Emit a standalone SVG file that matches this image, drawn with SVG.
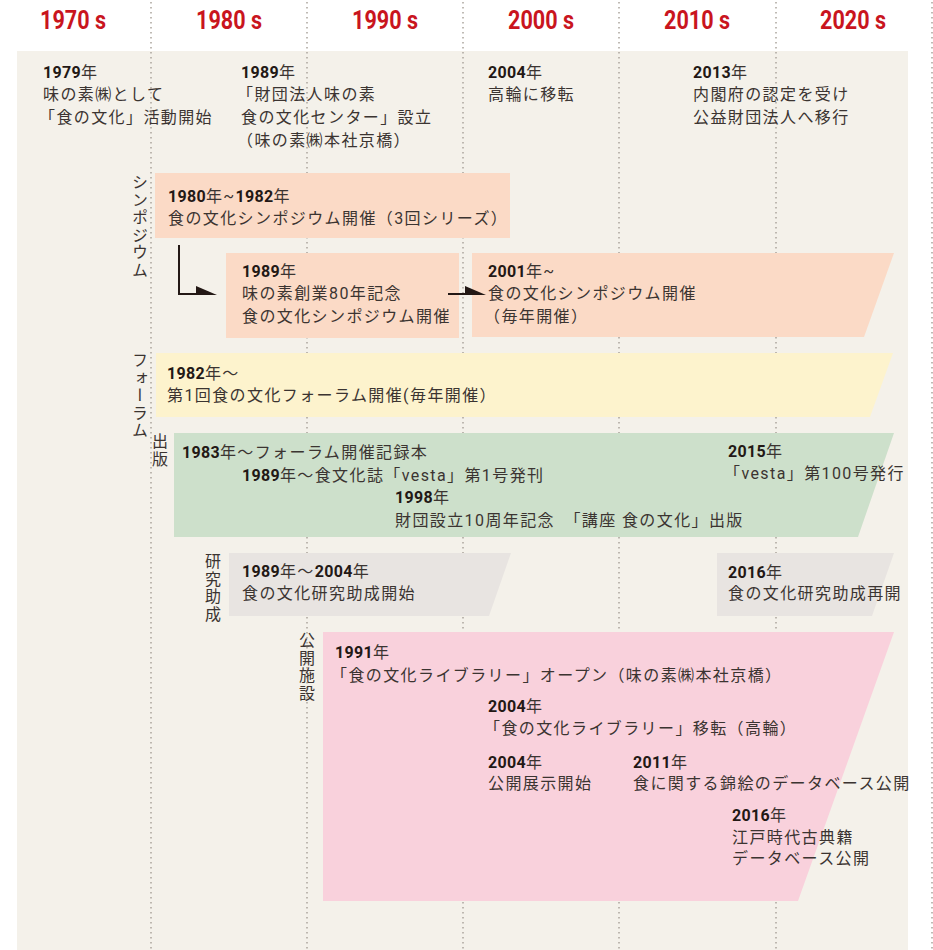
<svg xmlns="http://www.w3.org/2000/svg" width="933" height="950" viewBox="0 0 933 950">
<style>
.dot{stroke:#aaa49c;stroke-width:1.5;stroke-dasharray:1.5 3.5;fill:none}
.hd{font-family:Roboto,"DejaVu Sans",sans-serif;font-weight:700;font-size:26px;fill:#c9151e;text-anchor:middle}
.t{font-family:Roboto,"Noto Sans CJK JP",sans-serif;font-size:16px;fill:#3b3431;letter-spacing:1.4px}
.n{font-weight:700;fill:#231815;letter-spacing:0.3px}
.v{font-family:"Noto Sans CJK JP",sans-serif;font-size:16px;fill:#3b3431;writing-mode:vertical-rl;letter-spacing:1.5px}
.ar{stroke:#231815;stroke-width:2;fill:none}
.ah{fill:#231815}
</style>
<rect x="0" y="0" width="933" height="950" fill="#ffffff"/>
<rect x="17" y="51" width="891" height="899" fill="#f4f1ea"/>
<g id="gridlines">
<line class="dot" x1="151" y1="2" x2="151" y2="950"/>
<line class="dot" x1="307" y1="2" x2="307" y2="950"/>
<line class="dot" x1="463" y1="2" x2="463" y2="950"/>
<line class="dot" x1="619" y1="2" x2="619" y2="950"/>
<line class="dot" x1="776" y1="2" x2="776" y2="950"/>
<line class="dot" x1="932" y1="2" x2="932" y2="950"/>
</g>
<g id="header">
<text class="hd" x="73" y="29" textLength="66" lengthAdjust="spacingAndGlyphs">1970 s</text>
<text class="hd" x="229" y="29" textLength="66" lengthAdjust="spacingAndGlyphs">1980 s</text>
<text class="hd" x="385" y="29" textLength="66" lengthAdjust="spacingAndGlyphs">1990 s</text>
<text class="hd" x="541" y="29" textLength="66" lengthAdjust="spacingAndGlyphs">2000 s</text>
<text class="hd" x="697" y="29" textLength="66" lengthAdjust="spacingAndGlyphs">2010 s</text>
<text class="hd" x="853" y="29" textLength="66" lengthAdjust="spacingAndGlyphs">2020 s</text>
</g>
<g id="top-events">
<text class="t" x="43" y="78"><tspan class="n">1979</tspan>年</text>
<text class="t" x="43" y="100">味の素㈱として</text>
<text class="t" x="39" y="123">「食の文化」活動開始</text>
<text class="t" x="241" y="78"><tspan class="n">1989</tspan>年</text>
<text class="t" x="237" y="100">「財団法人味の素</text>
<text class="t" x="241" y="123">食の文化センター」設立</text>
<text class="t" x="237" y="146">（味の素㈱本社京橋）</text>
<text class="t" x="488" y="78"><tspan class="n">2004</tspan>年</text>
<text class="t" x="488" y="100">高輪に移転</text>
<text class="t" x="693" y="78"><tspan class="n">2013</tspan>年</text>
<text class="t" x="693" y="100">内閣府の認定を受け</text>
<text class="t" x="693" y="123">公益財団法人へ移行</text>
</g>
<g id="labels">
<text class="v" x="140" y="174">シンポジウム</text>
<text class="v" x="140" y="352">フォーラム</text>
<text class="v" x="160" y="433">出版</text>
<text class="v" x="213" y="553">研究助成</text>
<text class="v" x="307" y="632">公開施設</text>
</g>
<g id="sym1">
<rect x="155" y="173" width="355" height="65" fill="#fbdac6"/>
<text class="t" x="168" y="202"><tspan class="n">1980</tspan>年~<tspan class="n">1982</tspan>年</text>
<text class="t" x="168" y="224">食の文化シンポジウム開催（3回シリーズ）</text>
</g>
<g id="sym2">
<rect x="226" y="253" width="233" height="85" fill="#fbdac6"/>
<text class="t" x="242" y="277"><tspan class="n">1989</tspan>年</text>
<text class="t" x="242" y="299">味の素創業80年記念</text>
<text class="t" x="242" y="322">食の文化シンポジウム開催</text>
</g>
<g id="sym3">
<polygon points="472,253 894,253 864,337 472,337" fill="#fbdac6"/>
<text class="t" x="488" y="277"><tspan class="n">2001</tspan>年~</text>
<text class="t" x="488" y="299">食の文化シンポジウム開催</text>
<text class="t" x="484" y="322">（毎年開催）</text>
</g>
<g id="forum">
<polygon points="156,353 893,353 870,417 156,417" fill="#fdf3cd"/>
<text class="t" x="167" y="379"><tspan class="n">1982</tspan>年～</text>
<text class="t" x="167" y="401">第1回食の文化フォーラム開催(毎年開催）</text>
</g>
<g id="publication">
<polygon points="174,433 894,433 858,537 174,537" fill="#cde0cb"/>
<text class="t" x="182" y="458"><tspan class="n">1983</tspan>年～フォーラム開催記録本</text>
<text class="t" x="242" y="481"><tspan class="n">1989</tspan>年～食文化誌「vesta」第1号発刊</text>
<text class="t" x="395" y="503"><tspan class="n">1998</tspan>年</text>
<text class="t" x="395" y="526">財団設立10周年記念　「講座 食の文化」出版</text>
<text class="t" x="728" y="457"><tspan class="n">2015</tspan>年</text>
<text class="t" x="724" y="479">「vesta」第100号発行</text>
</g>
<g id="research1">
<polygon points="229,553 511,553 489,616 229,616" fill="#e8e4e1"/>
<text class="t" x="242" y="577"><tspan class="n">1989</tspan>年～<tspan class="n">2004</tspan>年</text>
<text class="t" x="242" y="599">食の文化研究助成開始</text>
</g>
<g id="research2">
<polygon points="717,553 894,553 872,616 717,616" fill="#e8e4e1"/>
<text class="t" x="728" y="578"><tspan class="n">2016</tspan>年</text>
<text class="t" x="728" y="599">食の文化研究助成再開</text>
</g>
<g id="facility">
<polygon points="323,632 894,632 798,901 323,901" fill="#f9d1dc"/>
<text class="t" x="335" y="658"><tspan class="n">1991</tspan>年</text>
<text class="t" x="331" y="681">「食の文化ライブラリー」オープン（味の素㈱本社京橋）</text>
<text class="t" x="488" y="712"><tspan class="n">2004</tspan>年</text>
<text class="t" x="484" y="734">「食の文化ライブラリー」移転（高輪）</text>
<text class="t" x="488" y="768"><tspan class="n">2004</tspan>年</text>
<text class="t" x="488" y="789">公開展示開始</text>
<text class="t" x="633" y="768"><tspan class="n">2011</tspan>年</text>
<text class="t" x="633" y="789">食に関する錦絵のデータベース公開</text>
<text class="t" x="732" y="821"><tspan class="n">2016</tspan>年</text>
<text class="t" x="732" y="843">江戸時代古典籍</text>
<text class="t" x="732" y="864">データベース公開</text>
</g>
<g id="connectors">
<path class="ar" d="M179,245 V294 H200"/>
<polygon class="ah" points="196,286 196,295 217,295"/>
<path class="ar" d="M448,294 H468"/>
<polygon class="ah" points="465,286 465,295 486,295"/>
</g>
</svg>
